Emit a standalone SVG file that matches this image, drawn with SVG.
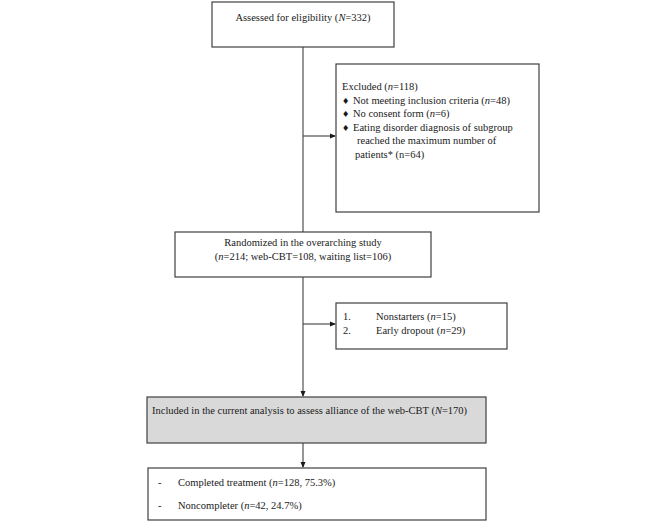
<svg xmlns="http://www.w3.org/2000/svg" width="666" height="524" viewBox="0 0 666 524">
<defs>
<style>
.box{fill:#fff;stroke:#404040;stroke-width:1.2}
.grey{fill:#d9d9d9;stroke:#404040;stroke-width:1.2}
text{font-family:"Liberation Serif","Times New Roman",serif;font-size:10.5px;fill:#1a1a1a}
.c{text-anchor:middle}
.line{stroke:#404040;stroke-width:1.1;fill:none}
</style>
<marker id="ah" markerWidth="6" markerHeight="6" refX="5" refY="3" orient="auto" markerUnits="userSpaceOnUse">
<path d="M0,0.5 L6,3 L0,5.5 Z" fill="#1a1a1a"/>
</marker>
</defs>
<rect width="666" height="524" fill="#fff"/>
<g id="connectors">
<line class="line" x1="303" y1="47" x2="303" y2="232"/>
<line class="line" x1="303" y1="136" x2="335" y2="136" marker-end="url(#ah)"/>
<line class="line" x1="303" y1="277" x2="303" y2="396" marker-end="url(#ah)"/>
<line class="line" x1="303" y1="324" x2="335" y2="324" marker-end="url(#ah)"/>
<line class="line" x1="303" y1="443" x2="303" y2="467" marker-end="url(#ah)"/>
</g>
<g id="assessed">
<rect class="box" x="212" y="2" width="182" height="45"/>
<text x="303" y="21" class="c">Assessed for eligibility  (<tspan font-style="italic">N</tspan>=332)</text>
</g>
<g id="excluded">
<rect class="box" x="336" y="64" width="203" height="148"/>
<text x="342" y="90">Excluded (<tspan font-style="italic">n</tspan>=118)</text>
<text x="343" y="103.5">♦</text><text x="353" y="103.5">Not meeting inclusion criteria (<tspan font-style="italic">n</tspan>=48)</text>
<text x="343" y="117">♦</text><text x="353" y="117">No consent form (<tspan font-style="italic">n</tspan>=6)</text>
<text x="343" y="130.5">♦</text><text x="353" y="130.5">Eating disorder diagnosis of subgroup</text>
<text x="357" y="144">reached the maximum number of</text>
<text x="355" y="157.5">patients* (n=64)</text>
</g>
<g id="randomized">
<rect class="box" x="175" y="232" width="256" height="45"/>
<text x="303" y="246" class="c">Randomized in the overarching study</text>
<text x="303" y="260" class="c">(<tspan font-style="italic">n</tspan>=214; web-CBT=108, waiting list=106)</text>
</g>
<g id="dropouts">
<rect class="box" x="336" y="303" width="171" height="46"/>
<text x="343" y="320">1.</text><text x="376" y="320">Nonstarters (<tspan font-style="italic">n</tspan>=15)</text>
<text x="343" y="334">2.</text><text x="376" y="334">Early dropout (<tspan font-style="italic">n</tspan>=29)</text>
</g>
<g id="included">
<rect class="grey" x="147" y="397" width="339" height="46"/>
<text x="152" y="414">Included in the current analysis to assess alliance of the web-CBT (<tspan font-style="italic">N</tspan>=170)</text>
</g>
<g id="outcome">
<rect class="box" x="148" y="468" width="338" height="52"/>
<text x="158" y="486">-</text><text x="178" y="486">Completed treatment (<tspan font-style="italic">n</tspan>=128, 75.3%)</text>
<text x="158" y="509">-</text><text x="178" y="509">Noncompleter (<tspan font-style="italic">n</tspan>=42, 24.7%)</text>
</g>
</svg>
